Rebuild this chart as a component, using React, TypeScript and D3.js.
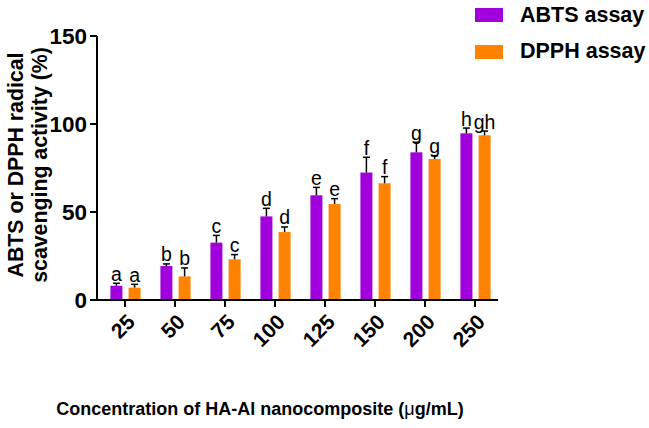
import React from "react";
import * as d3 from "d3";

const categories = ["25", "50", "75", "100", "125", "150", "200", "250"];
const abtsValues = [8.1, 19.3, 32.6, 47.5, 59.5, 72.4, 83.9, 94.7];
const abtsErrors = [1.4, 1.2, 4.1, 4.6, 4.5, 8.7, 5.7, 3.0];
const dpphValues = [7.0, 13.4, 23.1, 38.6, 54.5, 66.3, 80.1, 93.6];
const dpphErrors = [1.9, 4.8, 2.7, 2.9, 3.1, 3.8, 1.9, 2.4];
const abtsLetters = ["a", "b", "c", "d", "e", "f", "g", "h"];
const dpphLetters = ["a", "b", "c", "d", "e", "f", "g", "gh"];
const yTicks = [0, 50, 100, 150];
const seriesNames = ["ABTS assay", "DPPH assay"];
const colors = ["#A100DD", "#FF8200"];

export default function App() {
  const W = 649, H = 428;
  const y = d3.scaleLinear().domain([0, 150]).range([300, 36]);
  const x = d3.scaleBand().domain(categories).range([100, 500]).paddingInner(0).paddingOuter(0);
  const sub = d3.scaleBand().domain(seriesNames).range([-15.5, 16.5]).paddingInner(0.34).paddingOuter(0.05);
  const font = "Arial, 'Liberation Sans', Helvetica, sans-serif";
  const series = [
    { vals: abtsValues, errs: abtsErrors, letters: abtsLetters },
    { vals: dpphValues, errs: dpphErrors, letters: dpphLetters },
  ];
  return (
    <svg width={W} height={H} style={{ position: "absolute", left: 0, top: 0 }} fontFamily={font}>
      <rect x={0} y={0} width={W} height={H} fill="#fff" />
      {series.map((s, si) =>
        categories.map((c, i) => {
          const cx = (x(c) as number) + x.bandwidth() / 2;
          const bx = cx + (sub(seriesNames[si]) as number);
          const bw = sub.bandwidth();
          const top = y(s.vals[i]);
          const et = y(s.vals[i] + s.errs[i]);
          const mid = bx + bw / 2;
          return (
            <g key={si + "-" + c}>
              <rect x={bx} y={top} width={bw} height={300 - top} fill={colors[si]} />
              <line x1={mid} x2={mid} y1={top} y2={et} stroke="#000" strokeWidth={1.5} />
              <line x1={mid - 3.5} x2={mid + 3.5} y1={et} y2={et} stroke="#000" strokeWidth={1.5} />
              <text x={mid} y={et - 2.5} textAnchor="middle" fontSize={19.5} fill="#000">
                {s.letters[i]}
              </text>
            </g>
          );
        })
      )}
      {/* Y axis */}
      <line x1={97} x2={97} y1={y(150)} y2={301} stroke="#000" strokeWidth={2} />
      {yTicks.map((t) => (
        <g key={t}>
          <line x1={90} x2={97} y1={y(t)} y2={y(t)} stroke="#000" strokeWidth={2} />
          <text x={87} y={y(t)} dy="0.36em" textAnchor="end" fontSize={22.5} fontWeight="bold" fill="#000">
            {t}
          </text>
        </g>
      ))}
      {/* X axis */}
      <line x1={96} x2={498} y1={300} y2={300} stroke="#000" strokeWidth={2} />
      {categories.map((c) => {
        const cx = (x(c) as number) + x.bandwidth() / 2;
        return (
          <g key={c}>
            <line x1={cx} x2={cx} y1={300} y2={307} stroke="#000" strokeWidth={2} />
            <text
              transform={`translate(${cx + 6},${318}) rotate(-45)`}
              textAnchor="end"
              dy="0.36em"
              fontSize={21}
              fontWeight="bold"
              fill="#000"
            >
              {c}
            </text>
          </g>
        );
      })}
      {/* Y title */}
      <g transform="translate(0,165) rotate(-90)" fontSize={21.3} fontWeight="bold" fill="#000">
        <text x={0} y={23} textAnchor="middle">ABTS or DPPH radical</text>
        <text x={0} y={47} textAnchor="middle">scavenging activity (%)</text>
      </g>
      {/* X title */}
      <text x={260} y={415} textAnchor="middle" fontSize={18} fontWeight="bold" fill="#000">
        Concentration of HA-Al nanocomposite (<tspan fontWeight="normal">μ</tspan>g/mL)
      </text>
      {/* Legend */}
      {seriesNames.map((n, i) => (
        <g key={n}>
          <rect x={475} y={8 + i * 37} width={28} height={14} fill={colors[i]} />
          <text x={520} y={21.5 + i * 36} fontSize={21.5} fontWeight="bold" fill="#000">
            {n}
          </text>
        </g>
      ))}
    </svg>
  );
}
